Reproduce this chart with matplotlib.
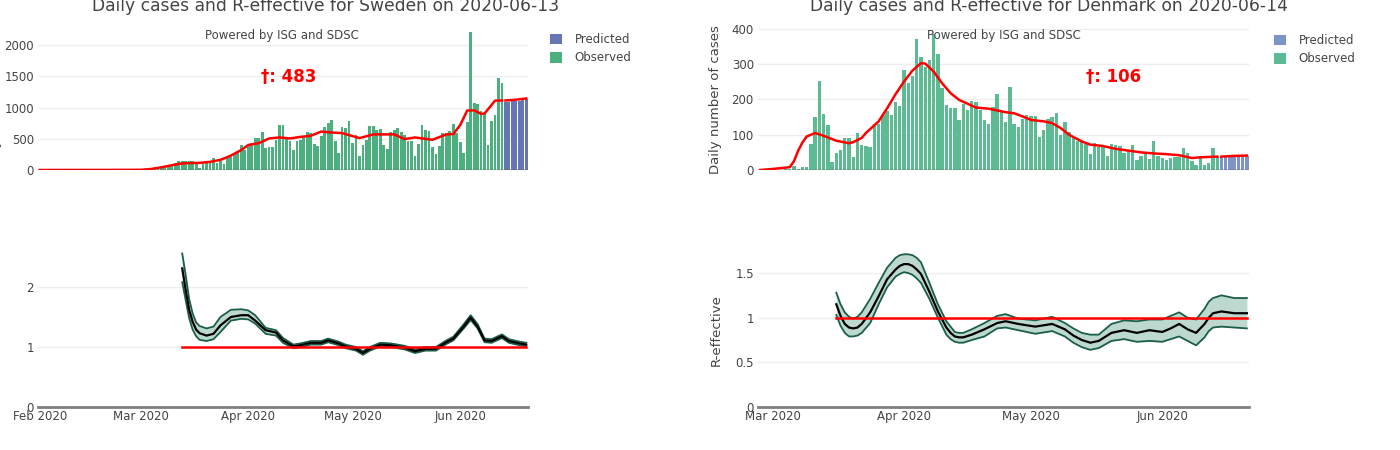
import numpy as np
import pandas as pd
import matplotlib
matplotlib.use('Agg')
from matplotlib import pyplot as plt
import matplotlib.dates as mdates
from matplotlib.patches import Patch
from matplotlib.ticker import FuncFormatter

plt.rcParams['font.family'] = ['DejaVu Sans']

W, H = 1400, 450

# ---- Sweden ----
sweden_obs_start = '2020-02-01'
sweden_obs = [1, 0, 0, 0, 0, 0, 0, 0, 0, 0, 0, 0, 0, 0, 0, 0, 0, 0, 0, 0,
              0, 0, 0, 0, 0, 1, 6, 1, 5,
              # March
              1, 1, 2, 6, 15, 23, 50, 55, 45, 76, 114, 141, 152, 150, 145, 140,
              114, 33, 114, 120, 141, 185, 114, 152, 98, 223, 234, 250, 304, 396, 320,
              # April
              385, 440, 510, 510, 614, 348, 370, 375, 483, 728, 728, 532, 467, 315,
              462, 478, 548, 614, 600, 413, 385, 548, 684, 747, 801, 457, 280, 694,
              672, 790,
              # May
              425, 565, 226, 403, 484, 704, 704, 645, 656, 398, 344, 602, 634, 672,
              602, 560, 468, 457, 226, 414, 720, 640, 629, 371, 263, 387, 586, 591,
              629, 736, 591,
              # June
              441, 269, 769, 2215, 1075, 1054, 946, 898, 403, 785, 887, 1473, 1398]
sweden_pred_start = '2020-06-14'
sweden_pred = [1085, 1095, 1100, 1105, 1110, 1120, 1140]

sweden_trend_dates = ['2020-02-01', '2020-02-20', '2020-03-01', '2020-03-04', '2020-03-07',
                      '2020-03-09', '2020-03-12', '2020-03-14', '2020-03-18', '2020-03-21',
                      '2020-03-24', '2020-03-26', '2020-03-28', '2020-03-30', '2020-04-01',
                      '2020-04-04', '2020-04-07', '2020-04-10', '2020-04-13', '2020-04-16',
                      '2020-04-19', '2020-04-22', '2020-04-25', '2020-04-28', '2020-05-03',
                      '2020-05-07', '2020-05-13', '2020-05-16', '2020-05-19', '2020-05-24',
                      '2020-05-28', '2020-05-30', '2020-06-01', '2020-06-03', '2020-06-05',
                      '2020-06-07', '2020-06-08', '2020-06-10', '2020-06-11', '2020-06-13']
sweden_trend = [0, 1, 3, 16, 43, 65, 98, 109, 114, 130, 163, 206, 260, 320, 400, 429, 505,
                521, 505, 530, 548, 615, 600, 591, 511, 570, 570, 495, 521, 484, 570, 575,
                720, 952, 955, 898, 905, 1040, 1110, 1113]
sweden_pred_trend_dates = ['2020-06-14', '2020-06-17', '2020-06-20']
sweden_pred_trend = [1113, 1125, 1145]

sweden_r_dates = ['2020-03-13', '2020-03-14', '2020-03-15', '2020-03-16', '2020-03-17',
                  '2020-03-18', '2020-03-20', '2020-03-22', '2020-03-24', '2020-03-27',
                  '2020-03-30', '2020-04-01', '2020-04-03', '2020-04-06', '2020-04-09',
                  '2020-04-11', '2020-04-14', '2020-04-16', '2020-04-19', '2020-04-22',
                  '2020-04-24', '2020-04-27', '2020-04-29', '2020-05-02', '2020-05-04',
                  '2020-05-06', '2020-05-09', '2020-05-12', '2020-05-14', '2020-05-16',
                  '2020-05-19', '2020-05-22', '2020-05-25', '2020-05-28', '2020-05-30',
                  '2020-06-02', '2020-06-04', '2020-06-06', '2020-06-08', '2020-06-10',
                  '2020-06-13', '2020-06-15', '2020-06-18', '2020-06-20']
sweden_r_mean = [2.31, 1.95, 1.62, 1.42, 1.29, 1.23, 1.19, 1.22, 1.36, 1.50, 1.53, 1.53,
                 1.44, 1.28, 1.24, 1.11, 1.01, 1.03, 1.07, 1.07, 1.11, 1.06, 1.01, 0.97,
                 0.90, 0.97, 1.04, 1.03, 1.01, 0.99, 0.93, 0.97, 0.97, 1.08, 1.14, 1.34,
                 1.49, 1.34, 1.11, 1.10, 1.18, 1.10, 1.06, 1.04]
sweden_r_low = [2.08, 1.78, 1.48, 1.29, 1.18, 1.12, 1.10, 1.13, 1.25, 1.44, 1.47, 1.46,
                1.39, 1.22, 1.19, 1.07, 0.98, 1.00, 1.04, 1.04, 1.08, 1.03, 0.98, 0.94,
                0.87, 0.94, 1.01, 1.00, 0.98, 0.96, 0.90, 0.94, 0.94, 1.05, 1.11, 1.31,
                1.45, 1.31, 1.08, 1.07, 1.15, 1.07, 1.03, 1.01]
sweden_r_high = [2.56, 2.20, 1.80, 1.56, 1.41, 1.35, 1.31, 1.34, 1.50, 1.62, 1.63, 1.61,
                 1.53, 1.32, 1.28, 1.15, 1.04, 1.06, 1.10, 1.10, 1.14, 1.09, 1.04, 1.00,
                 0.93, 1.00, 1.07, 1.06, 1.04, 1.02, 0.96, 1.00, 1.00, 1.11, 1.17, 1.38,
                 1.53, 1.38, 1.14, 1.13, 1.21, 1.13, 1.09, 1.07]

# ---- Denmark ----
denmark_obs_start = '2020-02-27'
denmark_obs = [1, 0, 0,
               # March
               1, 0, 1, 4, 3, 10, 4, 8, 8, 75, 151, 252, 160, 128, 23, 47, 57, 91,
               91, 36, 104, 70, 67, 64, 131, 131, 155, 168, 155, 192, 182,
               # April
               283, 247, 267, 372, 320, 292, 312, 385, 330, 234, 183, 177, 177, 142,
               188, 171, 197, 192, 169, 141, 131, 180, 216, 165, 136, 235, 131, 123,
               145, 157,
               # May
               154, 154, 95, 114, 144, 150, 161, 100, 135, 108, 95, 83, 79, 75, 46,
               78, 66, 67, 41, 75, 72, 67, 48, 55, 72, 27, 41, 51, 32, 81, 39,
               # June
               34, 29, 34, 36, 37, 63, 49, 25, 13, 39, 15, 19, 63, 39]
denmark_pred_start = '2020-06-15'
denmark_pred = [39, 39, 40, 40, 40, 41, 41]

denmark_trend_dates = ['2020-02-27', '2020-03-01', '2020-03-05', '2020-03-06', '2020-03-07',
                       '2020-03-08', '2020-03-09', '2020-03-11', '2020-03-13', '2020-03-16',
                       '2020-03-19', '2020-03-20', '2020-03-22', '2020-03-23', '2020-03-26',
                       '2020-03-28', '2020-03-30', '2020-04-01', '2020-04-03', '2020-04-05',
                       '2020-04-06', '2020-04-08', '2020-04-10', '2020-04-12', '2020-04-14',
                       '2020-04-16', '2020-04-18', '2020-04-21', '2020-04-25', '2020-04-27',
                       '2020-04-29', '2020-05-01', '2020-05-04', '2020-05-06', '2020-05-08',
                       '2020-05-10', '2020-05-13', '2020-05-15', '2020-05-18', '2020-05-21',
                       '2020-05-24', '2020-05-27', '2020-05-30', '2020-06-02', '2020-06-05',
                       '2020-06-08', '2020-06-10', '2020-06-14']
denmark_trend = [0, 3, 8, 25, 55, 78, 95, 105, 97, 83, 76, 79, 91, 105, 138, 175, 215, 251,
                 282, 303, 302, 279, 246, 218, 199, 188, 177, 174, 164, 161, 152, 142, 138,
                 133, 119, 100, 81, 72, 68, 60, 55, 50, 47, 45, 42, 34, 36, 38]
denmark_pred_trend_dates = ['2020-06-15', '2020-06-18', '2020-06-21']
denmark_pred_trend = [38, 40, 41]

denmark_r_dates = ['2020-03-16', '2020-03-17', '2020-03-18', '2020-03-19', '2020-03-20',
                   '2020-03-21', '2020-03-22', '2020-03-24', '2020-03-26', '2020-03-28',
                   '2020-03-30', '2020-03-31', '2020-04-01', '2020-04-02', '2020-04-03',
                   '2020-04-04', '2020-04-05', '2020-04-07', '2020-04-09', '2020-04-11',
                   '2020-04-12', '2020-04-13', '2020-04-14', '2020-04-15', '2020-04-17',
                   '2020-04-20', '2020-04-23', '2020-04-25', '2020-04-28', '2020-05-02',
                   '2020-05-06', '2020-05-09', '2020-05-11', '2020-05-13', '2020-05-15',
                   '2020-05-17', '2020-05-20', '2020-05-23', '2020-05-26', '2020-05-29',
                   '2020-06-01', '2020-06-03', '2020-06-05', '2020-06-07', '2020-06-09',
                   '2020-06-11', '2020-06-12', '2020-06-13', '2020-06-15', '2020-06-18',
                   '2020-06-21']
denmark_r_mean = [1.15, 1.02, 0.93, 0.89, 0.88, 0.89, 0.93, 1.06, 1.24, 1.43, 1.54, 1.58,
                  1.60, 1.60, 1.58, 1.54, 1.49, 1.29, 1.07, 0.89, 0.83, 0.79, 0.78, 0.78,
                  0.81, 0.87, 0.94, 0.96, 0.93, 0.90, 0.93, 0.87, 0.80, 0.75, 0.72, 0.74,
                  0.83, 0.86, 0.83, 0.86, 0.84, 0.88, 0.93, 0.87, 0.83, 0.93, 1.00, 1.05,
                  1.07, 1.05, 1.05]
denmark_r_low = [1.03, 0.91, 0.83, 0.79, 0.79, 0.80, 0.83, 0.94, 1.15, 1.34, 1.46, 1.49,
                 1.51, 1.50, 1.48, 1.44, 1.39, 1.21, 1.00, 0.81, 0.76, 0.73, 0.72, 0.72,
                 0.75, 0.79, 0.88, 0.89, 0.86, 0.82, 0.85, 0.79, 0.72, 0.67, 0.64, 0.66,
                 0.74, 0.76, 0.73, 0.74, 0.73, 0.76, 0.79, 0.74, 0.69, 0.78, 0.85, 0.89,
                 0.90, 0.89, 0.88]
denmark_r_high = [1.28, 1.15, 1.06, 1.01, 0.99, 1.01, 1.06, 1.21, 1.39, 1.56, 1.67, 1.70,
                  1.71, 1.71, 1.70, 1.67, 1.62, 1.39, 1.15, 0.96, 0.90, 0.84, 0.83, 0.83,
                  0.87, 0.94, 1.02, 1.04, 0.99, 0.97, 1.01, 0.94, 0.88, 0.83, 0.81, 0.81,
                  0.93, 0.97, 0.96, 0.98, 0.98, 1.02, 1.06, 1.00, 0.98, 1.10, 1.18, 1.22,
                  1.25, 1.22, 1.22]

TEXT = '#444444'
GRID = '#eeeeee'


def px(x, y):
    return x / W, 1 - y / H


def make_axes(fig, left, right, top, bottom):
    return fig.add_axes([left / W, 1 - bottom / H, (right - left) / W, (bottom - top) / H])


def style_axes(ax, xlim, ylim, yticks):
    ax.set_xlim(pd.to_datetime(xlim[0]), pd.to_datetime(xlim[1]))
    ax.set_ylim(ylim)
    ax.set_yticks(yticks)
    ax.yaxis.set_major_formatter(FuncFormatter(lambda v, p: '{:g}'.format(v)))
    for s in ['top', 'right', 'left', 'bottom']:
        ax.spines[s].set_visible(False)
    ax.grid(axis='y', color=GRID, lw=1)
    ax.set_axisbelow(True)
    ax.tick_params(axis='both', length=0, labelsize=8.5, colors=TEXT, pad=3)


def plot_cases(ax, obs_start, obs, pred_start, pred, t_dates, trend, pt_dates, ptrend,
               c_obs, c_pred):
    d_obs = pd.date_range(obs_start, periods=len(obs), freq='D')
    d_pred = pd.date_range(pred_start, periods=len(pred), freq='D')
    ax.bar(d_obs, obs, width=0.8, color=c_obs, zorder=2)
    ax.bar(d_pred, pred, width=0.8, color=c_pred, zorder=2)
    ax.axhline(0, color='#444444', lw=1, zorder=3)
    ax.plot(pd.to_datetime(t_dates), trend, color='#ff0000', lw=1.8, zorder=4)
    ax.plot(pd.to_datetime(pt_dates), ptrend, color='#ff0000', lw=1.8, zorder=4)
    ax.set_xticks([])
    return [Patch(facecolor=c_pred), Patch(facecolor=c_obs)]


def plot_r(ax, dates, mean, low, high):
    d = pd.to_datetime(dates)
    ax.fill_between(d, low, high, color='#bdd9cf', lw=0, zorder=2)
    ax.plot(d, low, color='#1b5e48', lw=1.3, zorder=3)
    ax.plot(d, high, color='#1b5e48', lw=1.3, zorder=3)
    ax.plot(d, mean, color='black', lw=1.6, zorder=4)
    ax.plot([d[0], d[-1]], [1, 1], color='#ff0000', lw=1.8, zorder=5)
    ax.spines['bottom'].set_visible(True)
    ax.spines['bottom'].set_color('#7f7f7f')
    ax.spines['bottom'].set_linewidth(2)
    ax.xaxis.set_major_locator(mdates.MonthLocator())
    ax.xaxis.set_major_formatter(mdates.DateFormatter('%b %Y'))
    ax.tick_params(axis='x', pad=2)


def place_legend(ax, handles, x, y):
    ax.legend(handles=handles, labels=['Predicted', 'Observed'], loc='upper left',
              bbox_to_anchor=px(x, y), bbox_transform=ax.figure.transFigure,
              frameon=False, fontsize=8.5, handlelength=1.0, handleheight=1.0,
              handletextpad=1.1, labelspacing=0.45, borderpad=0, borderaxespad=0,
              labelcolor=TEXT)


fig = plt.figure(figsize=(14, 4.5), dpi=100)

# Sweden
ax_se_top = make_axes(fig, 38, 528, 28, 170)
ax_se_r = make_axes(fig, 38, 528, 250, 407)
se_xlim = ('2020-01-31 12:00', '2020-06-20 12:00')
style_axes(ax_se_top, se_xlim, (0, 2273), [0, 500, 1000, 1500, 2000])
style_axes(ax_se_r, se_xlim, (0, 2.617), [0, 1, 2])
h = plot_cases(ax_se_top, sweden_obs_start, sweden_obs, sweden_pred_start, sweden_pred,
               sweden_trend_dates, sweden_trend, sweden_pred_trend_dates, sweden_pred_trend,
               '#4caf7e', '#6675b4')
plot_r(ax_se_r, sweden_r_dates, sweden_r_mean, sweden_r_low, sweden_r_high)
ax_se_top.set_xlim(ax_se_r.get_xlim())
place_legend(ax_se_top, h, 550, 33)

# Denmark
ax_dk_top = make_axes(fig, 758, 1249, 28, 170)
ax_dk_r = make_axes(fig, 758, 1249, 250, 407)
dk_xlim = ('2020-02-26 12:00', '2020-06-21 12:00')
style_axes(ax_dk_top, dk_xlim, (0, 402.8), [0, 100, 200, 300, 400])
style_axes(ax_dk_r, dk_xlim, (0, 1.758), [0, 0.5, 1, 1.5])
h = plot_cases(ax_dk_top, denmark_obs_start, denmark_obs, denmark_pred_start, denmark_pred,
               denmark_trend_dates, denmark_trend, denmark_pred_trend_dates, denmark_pred_trend,
               '#5cbb93', '#7e93c7')
plot_r(ax_dk_r, denmark_r_dates, denmark_r_mean, denmark_r_low, denmark_r_high)
ax_dk_top.set_xlim(ax_dk_r.get_xlim())
place_legend(ax_dk_top, h, 1274, 34)

# titles and notes
fig.text(*px(326, 6), 'Daily cases and R-effective for Sweden on 2020-06-13',
         ha='center', va='center', fontsize=12.3, color=TEXT)
fig.text(*px(1049, 6), 'Daily cases and R-effective for Denmark on 2020-06-14',
         ha='center', va='center', fontsize=12.3, color=TEXT)
fig.text(*px(282, 36), 'Powered by ISG and SDSC', ha='center', va='center',
         fontsize=8.5, color=TEXT)
fig.text(*px(1004, 36), 'Powered by ISG and SDSC', ha='center', va='center',
         fontsize=8.5, color=TEXT)
fig.text(*px(289, 77), '\u2020: 483', ha='center', va='center', fontsize=12,
         fontweight='bold', color='#ff0000')
fig.text(*px(1114, 77), '\u2020: 106', ha='center', va='center', fontsize=12,
         fontweight='bold', color='#ff0000')

# axis titles (Sweden's sits mostly off the canvas, as in the source)
fig.text(*px(2.5, 99), 'Daily number of cases', rotation=90, ha='right', va='center',
         fontsize=9.5, color=TEXT)
fig.text(*px(716, 100), 'Daily number of cases', rotation=90, ha='center', va='center',
         fontsize=9.5, color=TEXT)
fig.text(*px(716, 330), 'R-effective', rotation=90, ha='center', va='center',
         fontsize=9.5, color=TEXT)

fig.savefig('out.png', dpi=100)
